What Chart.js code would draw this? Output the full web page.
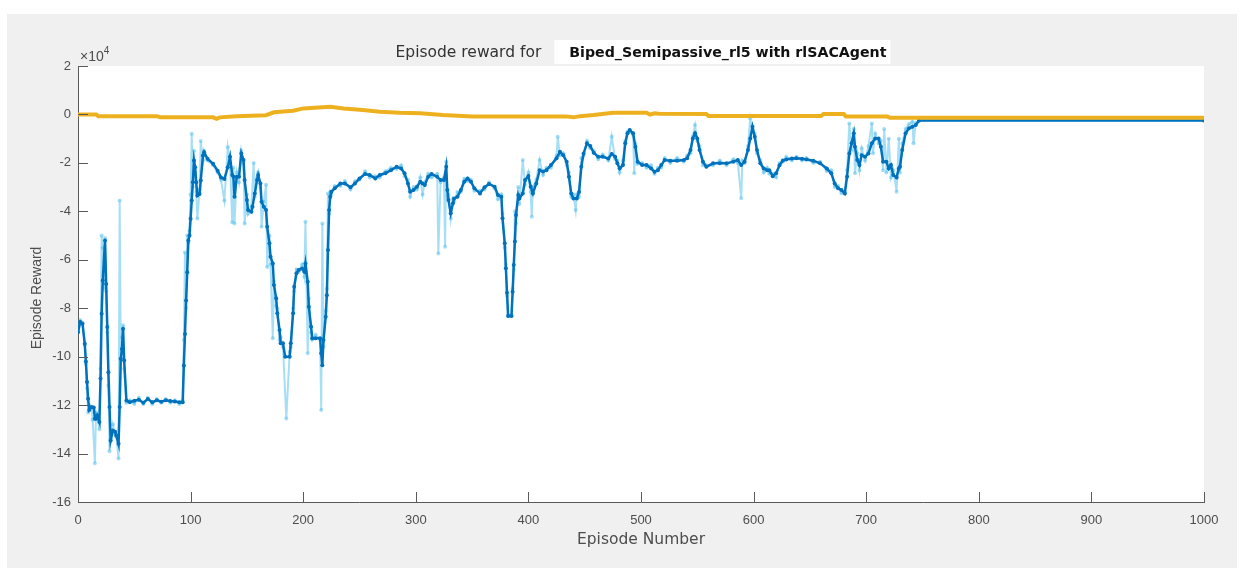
<!DOCTYPE html>
<html>
<head>
<meta charset="utf-8">
<script src="https://cdn.jsdelivr.net/npm/chart.js@4.4.0/dist/chart.umd.min.js"></script>
<style>
  html, body { margin: 0; padding: 0; background: #ffffff; }
  #wrap { width: 1242px; height: 568px; }
</style>
</head>
<body>
<div id="wrap"><canvas id="c" width="1242" height="568"></canvas></div>
<script>
// Rewards are in units of 10^4 (the y axis carries the x10^4 multiplier).
// Each entry is [episode, value].

// Per-episode reward (light blue)
const episodeReward = [
  [0,-8.9],[2,-8.5],[4,-8.6],[6,-9.5],[7,-10.3],[8,-11.3],[9,-12.3],[10,-12.0],[12,-12.1],[13,-12.6],
  [15,-14.4],[16,-12.3],[17,-12.4],[19,-13.0],[20,-10.5],[21,-5.0],[22,-5.5],[23,-7.2],[24,-5.1],[25,-7.3],
  [26,-9.0],[27,-11.2],[28,-13.9],[29,-13.4],[31,-12.8],[33,-13.2],[34,-13.3],[36,-14.2],[37,-3.55],[38,-10.1],
  [39,-9.2],[40,-8.7],[41,-10.5],[43,-11.9],[46,-11.8],[50,-11.95],[54,-11.7],[58,-11.95],[62,-11.7],[66,-11.95],
  [70,-11.75],[74,-11.9],[78,-11.75],[82,-11.9],[86,-11.8],[90,-11.95],[93,-11.8],[94,-9.3],[95,-5.7],[96,-8.0],
  [97,-5.0],[98,-5.3],[99,-4.8],[100,-3.3],[101,-0.8],[102,-3.0],[103,-1.5],[104,-2.4],[105,-3.2],[106,-4.3],
  [108,-3.1],[109,-1.1],[111,-1.9],[112,-1.5],[115,-1.9],[120,-2.1],[124,-2.4],[127,-2.7],[130,-3.55],[133,-1.35],
  [135,-2.0],[137,-4.45],[138,-2.2],[139,-4.5],[141,-2.4],[143,-2.8],[145,-1.5],[147,-2.0],[148,-4.5],[150,-3.3],
  [151,-4.1],[154,-3.8],[156,-2.0],[157,-3.4],[159,-2.6],[160,-2.4],[162,-3.0],[163,-4.64],[165,-3.6],[167,-2.9],
  [168,-6.3],[170,-5.0],[171,-6.2],[173,-9.24],[174,-6.9],[176,-7.9],[177,-8.0],[179,-9.3],[180,-9.2],[182,-9.6],
  [185,-12.55],[188,-9.8],[189,-9.6],[191,-8.0],[192,-7.3],[194,-6.4],[196,-6.5],[199,-6.2],[201,-6.7],[202,-4.43],
  [204,-9.86],[205,-7.6],[207,-9.0],[208,-9.3],[211,-9.1],[215,-9.3],[216,-12.2],[217,-4.5],[218,-9.6],[220,-8.1],
  [221,-7.2],[222,-3.26],[223,-4.1],[224,-3.2],[225,-3.3],[228,-2.95],[233,-2.95],[237,-2.75],[242,-3.1],[246,-2.75],
  [250,-2.7],[255,-2.35],[259,-2.6],[264,-2.55],[268,-2.6],[273,-2.35],[278,-2.2],[283,-2.25],[287,-2.1],[290,-2.55],
  [293,-2.7],[295,-3.4],[298,-3.0],[301,-3.1],[304,-2.6],[306,-3.3],[308,-2.8],[311,-2.45],[314,-2.6],[319,-2.45],
  [320,-5.74],[322,-2.8],[325,-2.6],[326,-5.46],[327,-1.95],[328,-3.4],[329,-3.3],[331,-4.3],[333,-3.5],[334,-3.6],
  [337,-3.2],[340,-3.2],[343,-2.65],[346,-2.75],[349,-2.7],[352,-3.15],[357,-3.15],[361,-3.1],[365,-2.8],[370,-3.05],
  [373,-3.5],[376,-3.3],[377,-4.1],[379,-5.5],[380,-6.2],[381,-7.5],[382,-8.3],[385,-8.3],[386,-7.2],[387,-6.4],
  [388,-4.0],[389,-4.5],[391,-3.0],[392,-3.7],[395,-1.88],[397,-2.9],[400,-2.4],[402,-3.2],[403,-4.22],[404,-3.0],
  [407,-2.7],[410,-1.88],[413,-2.5],[416,-2.2],[420,-2.2],[425,-1.7],[426,-0.92],[428,-1.7],[431,-1.6],[434,-2.1],
  [436,-2.4],[438,-3.4],[440,-3.3],[442,-3.95],[443,-3.3],[445,-3.4],[447,-1.8],[449,-1.7],[452,-1.1],[455,-1.4],
  [458,-1.5],[462,-1.85],[466,-1.65],[471,-1.9],[474,-0.92],[477,-1.85],[479,-1.9],[481,-2.4],[484,-1.9],[486,-1.1],
  [488,-0.7],[490,-0.7],[493,-0.85],[494,-2.43],[495,-1.2],[497,-2.05],[501,-2.0],[505,-2.2],[509,-2.1],[512,-2.45],
  [515,-2.2],[518,-2.2],[521,-1.8],[526,-2.0],[532,-1.8],[538,-1.95],[541,-1.7],[544,-1.6],[546,-0.9],[548,-0.44],
  [550,-1.1],[552,-1.3],[555,-2.1],[558,-2.1],[564,-2.1],[570,-1.9],[576,-2.1],[582,-1.85],[586,-2.0],[589,-3.46],
  [590,-1.9],[592,-2.0],[595,-1.3],[597,-0.16],[599,-0.6],[601,-0.8],[603,-1.6],[606,-1.9],[609,-2.4],[612,-2.2],
  [614,-2.45],[617,-2.45],[620,-2.6],[623,-2.0],[626,-1.95],[629,-1.75],[634,-1.9],[638,-1.75],[643,-1.9],[647,-1.8],
  [653,-2.0],[659,-1.95],[665,-2.35],[669,-2.3],[672,-3.0],[675,-2.95],[678,-3.25],[681,-3.2],[683,-2.3],[685,-0.37],
  [687,-1.5],[689,-0.6],[690,-2.43],[692,-1.6],[694,-2.3],[696,-1.4],[699,-1.9],[702,-1.3],[705,-0.37],[706,-1.6],
  [708,-0.8],[711,-1.2],[713,-1.1],[715,-2.3],[716,-0.6],[718,-2.4],[720,-1.0],[722,-2.6],[724,-2.3],[727,-3.19],
  [729,-1.0],[730,-2.4],[732,-1.2],[735,-0.6],[738,-0.4],[741,-0.3],[742,-1.19],[744,-0.35],[747,-0.25],[1000,-0.25]
];

// Running average reward (dark blue)
const averageReward = [
  [0,-8.99],[2,-8.57],[4,-8.64],[6,-9.47],[7,-10.2],[8,-11.05],[9,-11.74],[10,-12.2],[12,-12.08],[14,-12.1],
  [15,-12.56],[16,-12.56],[17,-12.43],[19,-12.7],[20,-10.9],[21,-8.23],[22,-6.86],[24,-5.2],[25,-7.0],[26,-8.78],
  [27,-10.64],[28,-12.08],[29,-13.46],[31,-13.05],[33,-13.1],[34,-13.25],[36,-13.6],[37,-12.08],[38,-10.09],[39,-9.68],
  [40,-8.85],[41,-10.16],[43,-11.81],[46,-11.88],[50,-11.82],[54,-11.78],[58,-11.9],[62,-11.75],[66,-11.88],[70,-11.8],
  [74,-11.86],[78,-11.8],[82,-11.83],[86,-11.85],[90,-11.88],[93,-11.88],[94,-10.36],[95,-9.06],[96,-7.68],[97,-6.51],
  [98,-5.2],[99,-5.0],[100,-4.31],[101,-3.55],[102,-2.8],[103,-1.9],[104,-2.18],[105,-2.8],[106,-3.35],[108,-3.28],
  [109,-2.73],[111,-1.7],[112,-1.56],[115,-1.83],[120,-2.04],[124,-2.32],[127,-2.6],[130,-2.66],[133,-2.18],[135,-1.75],
  [137,-2.5],[138,-2.57],[139,-3.4],[141,-2.57],[143,-2.57],[145,-1.61],[147,-1.88],[148,-2.71],[150,-3.53],[151,-3.95],
  [154,-4.02],[155,-3.81],[157,-3.26],[159,-2.71],[160,-2.5],[162,-2.85],[163,-3.6],[165,-3.81],[167,-3.95],[168,-4.64],
  [170,-5.32],[171,-5.87],[173,-6.15],[174,-7.04],[176,-7.59],[177,-8.21],[179,-8.9],[180,-9.45],[182,-9.45],[184,-10.0],
  [188,-10.0],[189,-9.45],[191,-8.21],[192,-7.11],[194,-6.56],[196,-6.42],[199,-6.36],[201,-6.49],[202,-6.15],[204,-6.91],
  [205,-7.94],[207,-8.77],[208,-9.24],[211,-9.24],[215,-9.24],[216,-9.86],[217,-10.35],[218,-9.31],[220,-8.35],[221,-7.46],
  [222,-5.6],[223,-3.95],[224,-3.4],[225,-3.19],[228,-3.05],[233,-2.85],[237,-2.85],[242,-3.01],[246,-2.85],[250,-2.64],
  [255,-2.46],[259,-2.5],[264,-2.64],[268,-2.5],[273,-2.43],[278,-2.3],[283,-2.16],[287,-2.23],[290,-2.43],[293,-2.85],
  [295,-3.19],[298,-3.12],[301,-2.98],[304,-2.78],[306,-2.85],[308,-2.91],[311,-2.57],[314,-2.46],[319,-2.57],[322,-2.71],
  [325,-2.71],[327,-2.16],[328,-3.12],[329,-3.53],[331,-4.08],[333,-3.67],[334,-3.47],[337,-3.4],[340,-3.12],[343,-2.78],
  [346,-2.64],[349,-2.78],[352,-3.05],[357,-3.26],[361,-3.01],[365,-2.87],[370,-2.98],[373,-3.33],[376,-3.4],[377,-4.29],
  [379,-5.32],[380,-6.35],[381,-7.36],[382,-8.32],[385,-8.32],[386,-7.32],[387,-6.22],[388,-5.25],[389,-4.15],[391,-3.33],
  [392,-3.47],[395,-3.26],[397,-2.71],[400,-2.54],[402,-2.98],[404,-3.26],[407,-2.85],[410,-2.3],[413,-2.36],[416,-2.3],
  [420,-2.09],[425,-1.81],[428,-1.54],[431,-1.68],[434,-1.95],[436,-2.57],[438,-3.26],[440,-3.47],[443,-3.47],[445,-3.2],
  [447,-2.16],[449,-1.61],[452,-1.19],[455,-1.3],[458,-1.58],[462,-1.75],[466,-1.75],[471,-1.82],[474,-1.63],[477,-1.75],
  [479,-2.02],[481,-2.23],[484,-2.09],[486,-1.19],[488,-0.78],[490,-0.64],[493,-0.78],[495,-1.33],[497,-1.95],[501,-2.09],
  [505,-2.09],[509,-2.23],[512,-2.37],[515,-2.3],[518,-2.09],[521,-1.88],[526,-1.91],[532,-1.91],[538,-1.88],[541,-1.81],
  [544,-1.47],[546,-0.99],[548,-0.78],[550,-0.99],[552,-1.47],[555,-1.95],[558,-2.16],[564,-2.02],[570,-2.02],[576,-2.02],
  [582,-1.95],[586,-1.88],[589,-2.09],[592,-1.95],[595,-1.47],[597,-0.99],[599,-0.51],[601,-0.92],[603,-1.47],[606,-2.02],
  [609,-2.23],[612,-2.3],[614,-2.3],[617,-2.55],[620,-2.43],[623,-2.1],[626,-1.9],[629,-1.86],[634,-1.82],[638,-1.81],
  [643,-1.83],[647,-1.86],[653,-1.91],[659,-2.02],[665,-2.23],[669,-2.43],[672,-2.85],[675,-3.05],[678,-3.12],[681,-3.26],
  [683,-2.57],[685,-1.61],[687,-1.19],[689,-0.78],[690,-1.33],[692,-1.88],[694,-2.09],[696,-1.68],[699,-1.75],[702,-1.61],
  [705,-1.19],[708,-0.99],[711,-0.99],[713,-1.33],[715,-1.95],[718,-1.95],[720,-2.23],[722,-2.09],[724,-2.5],[727,-2.6],
  [729,-2.23],[730,-2.16],[732,-1.47],[735,-0.78],[738,-0.57],[741,-0.51],[744,-0.44],[747,-0.25],[1000,-0.25]
];

// Episode Q0 estimate (orange)
const episodeQ0 = [
  [0,0.0],[16,0.0],[18,-0.07],[70,-0.07],[73,-0.12],[120,-0.12],[123,-0.18],[126,-0.12],[141,-0.07],[167,-0.03],
  [174,0.09],[191,0.15],[200,0.25],[224,0.32],[236,0.25],[253,0.18],[268,0.11],[286,0.07],[304,0.05],[324,-0.02],
  [350,-0.08],[433,-0.08],[440,-0.12],[446,-0.07],[458,-0.02],[475,0.07],[505,0.07],[508,-0.01],[512,0.05],[516,0.03],
  [558,0.02],[560,-0.06],[623,-0.06],[660,-0.06],[662,0.02],[680,0.02],[682,-0.09],[719,-0.09],[721,-0.14],[1000,-0.14]
];

const xTickStep = 100;
const yTickStep = 2;
const titleLead = 'Episode reward for';
const titleSubject = 'Biped_Semipassive_rl5 with rlSACAgent';
const xAxisTitle = 'Episode Number';
const yAxisTitle = 'Episode Reward';

const FONT = '"Liberation Sans", Arial, Helvetica, sans-serif';
const WIDE = '"DejaVu Sans", Verdana, sans-serif';
const toPoints = pairs => pairs.map(([x, y]) => ({ x, y }));

// Grey figure panel behind a white axes area
const panelBg = {
  id: 'panelBg',
  beforeDraw(chart) {
    const { ctx, chartArea: a } = chart;
    ctx.save();
    ctx.fillStyle = '#ffffff';
    ctx.fillRect(0, 0, chart.width, chart.height);
    ctx.fillStyle = '#f0f0f0';
    ctx.fillRect(7, 14, 1230, 554);
    ctx.fillStyle = '#ffffff';
    ctx.fillRect(a.left, a.top, a.right - a.left, a.bottom - a.top);
    ctx.restore();
  }
};

// Inward tick marks, the exponent note, the y label and the title
const axesDecor = {
  id: 'axesDecor',
  afterDraw(chart) {
    const { ctx, chartArea: a, scales: { x, y } } = chart;
    ctx.save();
    ctx.strokeStyle = '#5a5a5a';
    ctx.lineWidth = 1;
    ctx.beginPath();
    y.ticks.forEach(t => {
      const py = Math.round(y.getPixelForValue(t.value)) + 0.5;
      ctx.moveTo(a.left, py); ctx.lineTo(a.left + 10, py);
    });
    x.ticks.forEach(t => {
      const px = Math.round(x.getPixelForValue(t.value)) + 0.5;
      ctx.moveTo(px, a.bottom); ctx.lineTo(px, a.bottom - 10);
    });
    ctx.stroke();

    // x10^4 multiplier
    ctx.fillStyle = '#4d4d4d';
    ctx.textBaseline = 'alphabetic';
    ctx.textAlign = 'left';
    ctx.font = '14px ' + FONT;
    const base = '\u00d710';
    ctx.fillText(base, a.left + 2, a.top - 5);
    const bw = ctx.measureText(base).width;
    ctx.font = '10px ' + FONT;
    ctx.fillText('4', a.left + 2 + bw, a.top - 12);

    // y axis label
    ctx.save();
    ctx.translate(37, 298);
    ctx.rotate(-Math.PI / 2);
    ctx.textAlign = 'center';
    ctx.textBaseline = 'middle';
    ctx.font = '14px ' + FONT;
    ctx.fillText(yAxisTitle, 0, 0);
    ctx.restore();

    // Title: plain lead-in, then the bold subject on a white strip
    const ty = a.top - 9;
    const leadFont = '15.5px ' + WIDE;
    const subFont = 'bold 14.2px ' + WIDE;
    ctx.font = subFont;
    const wSub = ctx.measureText(titleSubject).width;
    const cx = (a.left + a.right) / 2;
    ctx.font = leadFont;
    const wLead = ctx.measureText(titleLead).width;
    const gap = 28;
    const start = cx - (wLead + gap + wSub) / 2;
    const subX = start + wLead + gap;
    ctx.fillStyle = '#ffffff';
    ctx.fillRect(subX - 15, 40, wSub + 19, 24);
    ctx.fillStyle = '#333333';
    ctx.font = leadFont;
    ctx.fillText(titleLead, start, ty);
    ctx.fillStyle = '#111111';
    ctx.font = subFont;
    ctx.fillText(titleSubject, subX, ty);
    ctx.restore();
  }
};

new Chart(document.getElementById('c'), {
  type: 'line',
  data: {
    datasets: [
      {
        label: 'Episode Q0',
        data: toPoints(episodeQ0),
        borderColor: '#EDB120',
        backgroundColor: '#EDB120',
        borderWidth: 4,
        pointRadius: 0,
        order: 0
      },
      {
        label: 'Average Reward',
        data: toPoints(averageReward),
        borderColor: '#0072BD',
        backgroundColor: '#0072BD',
        borderWidth: 2.5,
        pointRadius: 2,
        pointBorderWidth: 0,
        order: 1
      },
      {
        label: 'Episode Reward',
        data: toPoints(episodeReward),
        borderColor: 'rgba(77,190,238,0.5)',
        backgroundColor: 'rgba(77,190,238,0.5)',
        borderWidth: 2,
        pointRadius: 2,
        pointBorderWidth: 0,
        order: 2
      }
    ]
  },
  options: {
    responsive: false,
    animation: false,
    devicePixelRatio: 1,
    layout: { padding: { left: 0, top: 66, right: 38, bottom: 0 } },
    elements: { line: { tension: 0 } },
    plugins: {
      legend: { display: false },
      tooltip: { enabled: false },
      title: { display: false }
    },
    scales: {
      x: {
        type: 'linear',
        min: 0, max: 1000,
        afterFit(s) { s.height = 66; },
        ticks: {
          stepSize: xTickStep, color: '#4d4d4d', font: { family: FONT, size: 13 }, padding: 11, maxRotation: 0,
          callback: v => String(v)
        },
        grid: { drawOnChartArea: false, drawTicks: false },
        border: { color: '#5a5a5a', width: 1 },
        title: { display: true, text: xAxisTitle, color: '#4d4d4d', font: { family: WIDE, size: 15.5 }, padding: { bottom: 19 } }
      },
      y: {
        min: -16, max: 2,
        afterFit(s) { s.width = 78; },
        ticks: { stepSize: yTickStep, color: '#4d4d4d', font: { family: FONT, size: 13 }, padding: 7 },
        grid: { drawOnChartArea: false, drawTicks: false },
        border: { color: '#5a5a5a', width: 1 },
        title: { display: false }
      }
    }
  },
  plugins: [panelBg, axesDecor]
});
</script>
</body>
</html>
